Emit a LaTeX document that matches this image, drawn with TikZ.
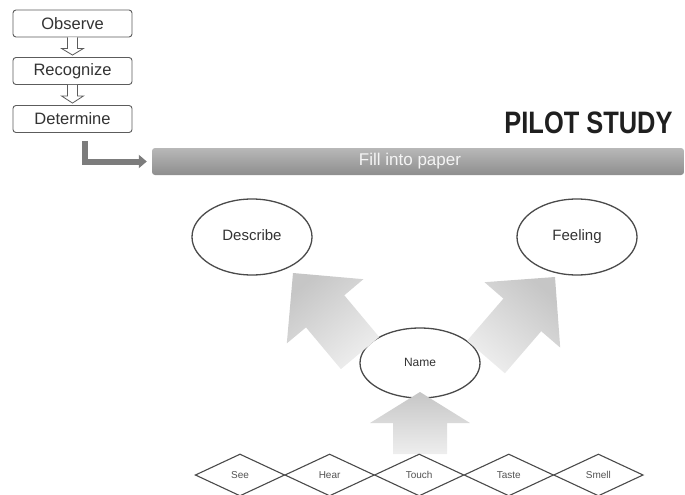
\documentclass[tikz,border=0pt]{standalone}
\usepackage{fontspec}
\setmainfont{Liberation Sans}
\usetikzlibrary{shapes.geometric,arrows.meta,calc}

\definecolor{boxline}{HTML}{5C5C5C}
\definecolor{inkgray}{HTML}{333333}
\definecolor{linkgray}{HTML}{7C7C7C}
\definecolor{bartop}{HTML}{B8B8B8}
\definecolor{barbot}{HTML}{8E8E8E}
\definecolor{arrowdark}{HTML}{C6C6C6}
\definecolor{arrowlight}{HTML}{EEEEEE}
\definecolor{ovalline}{HTML}{4A4A4A}

% hollow down arrow between two stacked boxes
\newcommand{\stackarrow}[2]{%
  \draw[hollowarrow]
    ($(#1.south)+(-5,0)$) -- ($(#1.south)+(-5,11)$) -- ($(#1.south)+(-11,11)$)
    -- ($(#2.north)+(0,-2)$)
    -- ($(#1.south)+(11,11)$) -- ($(#1.south)+(5,11)$) -- ($(#1.south)+(5,0)$);}

\begin{document}
\begin{tikzpicture}[x=1pt,y=-1pt,
  stepbox/.style={draw=boxline, line width=0.9pt, rounded corners=3pt, fill=white,
    minimum width=119pt, minimum height=27pt, inner sep=0pt,
    font=\fontsize{16.5}{19}\selectfont, text=inkgray},
  hollowarrow/.style={draw=boxline, line width=0.8pt, fill=white, line join=miter},
  linkarrow/.style={draw=linkgray, line width=6pt,
    -{Triangle[length=8pt,width=13pt]}, shorten >=5pt},
  barbox/.style={rounded corners=3pt, minimum width=532pt, minimum height=27pt,
    inner sep=0pt, top color=bartop, bottom color=barbot, draw=none,
    font=\fontsize{17}{20}\selectfont, text=white!96!black},
  oval/.style={ellipse, draw=ovalline, line width=1.3pt, fill=white, inner sep=0pt,
    text=inkgray, text height=1.6ex, text depth=0.4ex},
  sense/.style={diamond, aspect=2, draw=ovalline, line width=1.1pt, inner sep=0pt,
    minimum width=89.6pt, minimum height=42pt,
    font=\fontsize{10}{12}\selectfont, text=black!68},
  bigarrow/.style={draw=none, top color=arrowdark, bottom color=arrowlight}
]
\useasboundingbox (0,0) rectangle (685,495);

% process steps
\node[stepbox] (obs) at (72.5,23.5) {Observe};
\node[stepbox] (rec) at (72.5,71) {Recognize};
\node[stepbox] (det) at (72.5,119) {Determine};
\stackarrow{obs}{rec}
\stackarrow{rec}{det}

% title and banner
\node[anchor=base, text=black!88] (title) at (588.5,133)
  {\scalebox{0.82}[1]{\bfseries\fontsize{31}{31}\selectfont PILOT STUDY}};
\node[barbox] (bar) at (418,161.5) {\hspace*{-16pt}Fill into paper};
\draw[linkarrow] ($(det.south)+(12.5,8)$) |- (bar.west);

% outcomes
\node[oval, minimum width=120pt, minimum height=76pt,
  font=\fontsize{15}{18}\selectfont] (desc) at (252,237) {Describe};
\node[oval, minimum width=120pt, minimum height=76pt,
  font=\fontsize{15}{18}\selectfont] (feel) at (577,237) {Feeling};
\node[oval, minimum width=120pt, minimum height=70pt,
  font=\fontsize{12}{14}\selectfont] (name) at (420,363) {Name};

% block arrows from Name to the outcomes and from the senses to Name
\shade[bigarrow, shading angle=40]
  (379.2,337.0) -- (344.3,295.3) -- (363.4,279.2) -- (293,273)
  -- (286.8,343.4) -- (306.0,327.4) -- (340.9,369.1) -- cycle;
\shade[bigarrow, shading angle=-40]
  (467.1,340.7) -- (503.4,298.6) -- (484.5,282.2) -- (555,277)
  -- (560.2,347.6) -- (541.2,331.2) -- (504.9,373.3) -- cycle;
\shade[bigarrow]
  (393,454) -- (393,423) -- (370,423) -- (420,392) -- (470,423)
  -- (447,423) -- (447,454) -- cycle;

% senses
\node[sense] (see)   at (240,475)   {See};
\node[sense] (hear)  at (329.6,475) {Hear};
\node[sense] (touch) at (419.2,475) {Touch};
\node[sense] (taste) at (508.8,475) {Taste};
\node[sense] (smell) at (598.4,475) {Smell};
\end{tikzpicture}
\end{document}
